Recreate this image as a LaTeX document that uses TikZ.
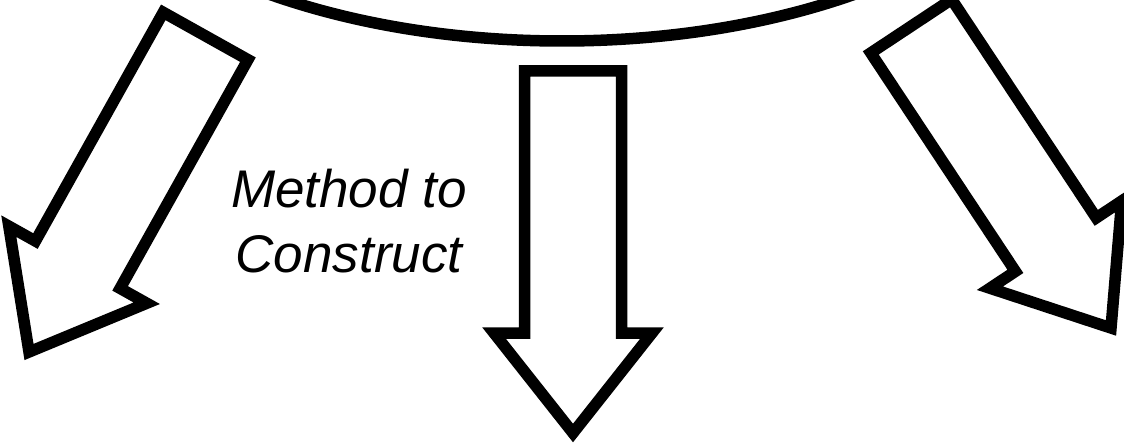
\documentclass[tikz,border=0pt]{standalone}
\usepackage{fontspec}
\setmainfont{Liberation Sans}

\tikzset{
  outline/.style={line width=11.5pt, draw=black, miter limit=10},
  blockarrow/.style={outline, fill=white},
}

\begin{document}
\begin{tikzpicture}[x=1pt,y=1pt]
    \useasboundingbox (0,0) rectangle (1124,442);
    \clip (0,0) rectangle (1124,442);

    % bottom of the big ellipse above
    \draw[outline] (562,671) ellipse [x radius=520, y radius=270];

    % three block arrows, given by tip and turn
    \foreach \tx/\ty/\ang in {29/90/-29.2, 573/9/0, 1111/114/33.5} {
      \draw[blockarrow, shift={(\tx,\ty)}, rotate=\ang]
        (0,0) -- (79,100) -- (48.5,100) -- (48.5,362)
        -- (-48.5,362) -- (-48.5,100) -- (-79,100) -- cycle;
    }

    \node[inner sep=0pt, align=center, font=\fontsize{53}{65}\selectfont\itshape]
      (method) at (349,220.5) {Method to\\Construct};
\end{tikzpicture}
\end{document}
